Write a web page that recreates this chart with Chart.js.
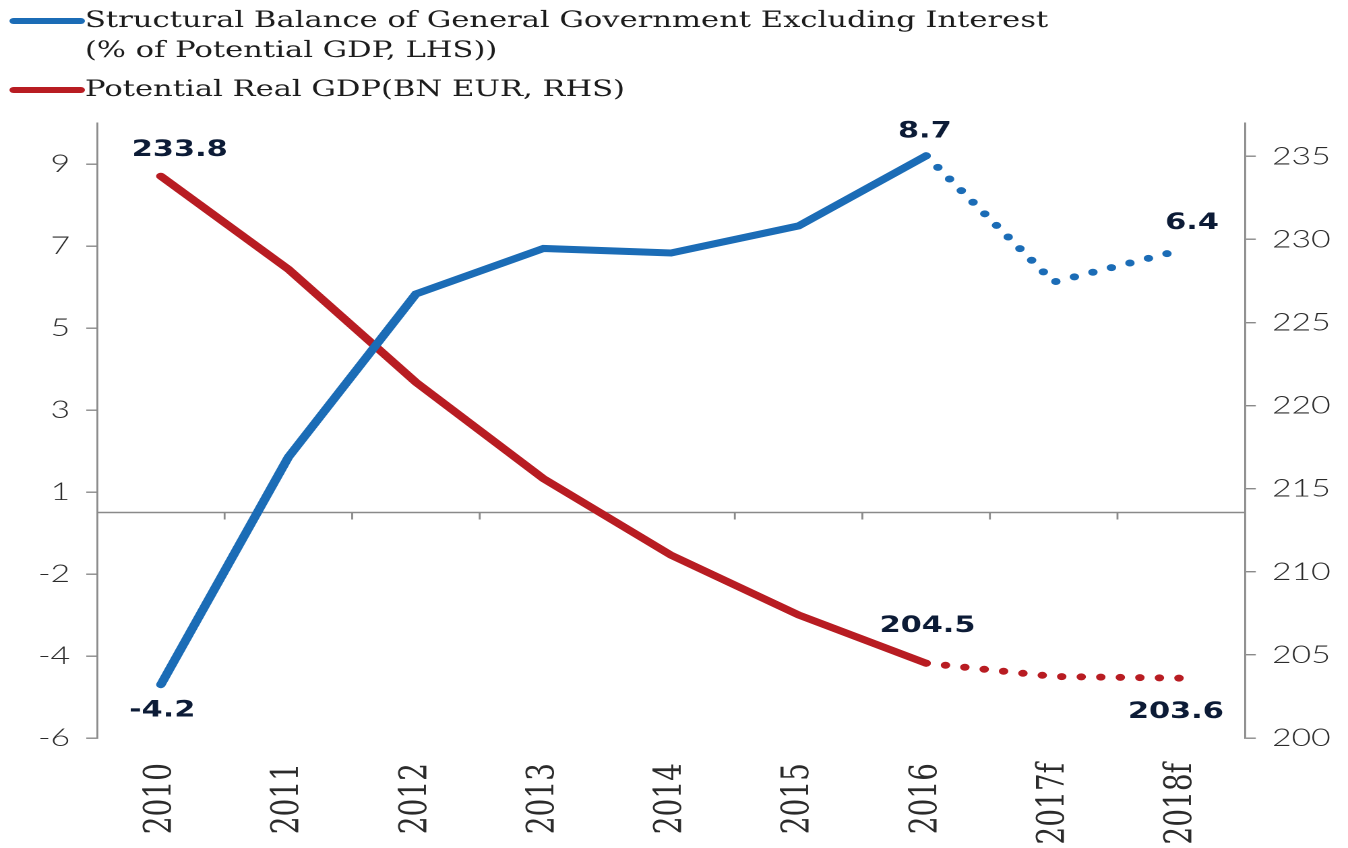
<!DOCTYPE html>
<html>
<head>
<meta charset="utf-8">
<script src="https://cdn.jsdelivr.net/npm/chart.js@4"></script>
<style>
    html, body { margin: 0; padding: 0; background: #fff; }
</style>
</head>
<body>
<!-- The chart is drawn 1000 wide and shown 1348 wide, like the stretched original. -->
<canvas id="chart" width="1000" height="848" style="display:block;width:1348px;height:848px;"></canvas>
<script>
const years = ['2010', '2011', '2012', '2013', '2014', '2015', '2016', '2017f', '2018f'];
const balanceValues = [-4.2, 1.35, 5.33, 6.44, 6.33, 6.99, 8.7, 5.62, 6.4];              // % of potential GDP, LHS
const gdpValues = [233.8, 228.2, 221.4, 215.6, 211.0, 207.4, 204.5, 203.7, 203.6];       // BN EUR, RHS
const balanceName = ['Structural Balance of General Government Excluding Interest', '(% of Potential GDP, LHS))'];
const gdpName = ['Potential Real GDP(BN EUR, RHS)'];
const leftTickValues = [-5.5, -3.5, -1.5, 0.5, 2.5, 4.5, 6.5, 8.5];
const leftTickLabels = ['-6', '-4', '-2', '1', '3', '5', '7', '9'];
const rightTickValues = [200, 205, 210, 215, 220, 225, 230, 235];
const lastActual = 6;   // 2016; the lines are dotted after this point

const BLUE = '#1b6cb6';
const RED = '#b81c22';
const GREY = '#8a8a8a';
const NAVY = '#0c1b36';

// Which points get a value label, and where it sits against the point.
const valueLabels = [
    {series: 1, index: 0, dx: 14, dy: -26},
    {series: 0, index: 0, dx: 1, dy: 26},
    {series: 0, index: 6, dx: -1, dy: -24},
    {series: 0, index: 8, dx: 8, dy: -27},
    {series: 1, index: 6, dx: 1, dy: -37},
    {series: 1, index: 8, dx: -4, dy: 34}
];

/* Horizontal line through zero on the left axis, with small ticks between the years. */
const zeroLine = {
    id: 'zeroLine',
    beforeDatasetsDraw(chart) {
        const ctx = chart.ctx;
        const area = chart.chartArea;
        const x = chart.scales.x;
        const y0 = chart.scales.yL.getPixelForValue(0);
        ctx.save();
        ctx.strokeStyle = GREY;
        ctx.lineWidth = 1.4;
        ctx.beginPath();
        ctx.moveTo(area.left, y0);
        ctx.lineTo(area.right, y0);
        for (let i = 0; i < years.length - 1; i++) {
            const xb = (x.getPixelForValue(i) + x.getPixelForValue(i + 1)) / 2;
            ctx.moveTo(xb, y0);
            ctx.lineTo(xb, y0 + 7);
        }
        ctx.stroke();
        ctx.restore();
    }
};

/* Bold value labels next to the first, 2016 and last points. */
const pointValues = {
    id: 'pointValues',
    afterDatasetsDraw(chart) {
        const ctx = chart.ctx;
        ctx.save();
        ctx.font = 'bold 22.5px "DejaVu Sans"';
        ctx.fillStyle = NAVY;
        ctx.textAlign = 'center';
        ctx.textBaseline = 'middle';
        valueLabels.forEach(l => {
            const pt = chart.getDatasetMeta(l.series).data[l.index];
            const v = chart.data.datasets[l.series].data[l.index];
            ctx.fillText(v.toFixed(1), pt.x + l.dx, pt.y + l.dy);
        });
        ctx.restore();
    }
};

/* Legend in the top left corner: a line sample, then the name on one or two rows. */
const topLegend = {
    id: 'topLegend',
    afterDraw(chart) {
        const ctx = chart.ctx;
        const entries = [
            {color: BLUE, lines: balanceName, y: 21},
            {color: RED, lines: gdpName, y: 90}
        ];
        ctx.save();
        ctx.font = '22.7px "DejaVu Serif"';
        ctx.fillStyle = '#1c1c1c';
        ctx.textBaseline = 'middle';
        entries.forEach(e => {
            ctx.strokeStyle = e.color;
            ctx.lineWidth = 6;
            ctx.lineCap = 'round';
            ctx.beginPath();
            ctx.moveTo(10, e.y);
            ctx.lineTo(60, e.y);
            ctx.stroke();
            e.lines.forEach((t, i) => ctx.fillText(t, 63, e.y + i * 30));
        });
        ctx.restore();
    }
};

const dotted = ctx => ctx.p0DataIndex >= lastActual ? [0, 14.5] : undefined;
const tickFont = {family: 'Lato', size: 25, weight: '300'};

new Chart(document.getElementById('chart'), {
    type: 'line',
    data: {
        labels: years,
        datasets: [
            {label: balanceName.join(' '), data: balanceValues, yAxisID: 'yL', borderColor: BLUE, backgroundColor: BLUE,
             borderWidth: 7, borderCapStyle: 'round', pointRadius: 0, fill: false, segment: {borderDash: dotted}},
            {label: gdpName[0], data: gdpValues, yAxisID: 'yR', borderColor: RED, backgroundColor: RED,
             borderWidth: 7, borderCapStyle: 'round', pointRadius: 0, fill: false, segment: {borderDash: dotted}}
        ]
    },
    options: {
        responsive: false,
        devicePixelRatio: 2,
        animation: false,
        layout: {padding: {top: 123, left: 0, right: 0, bottom: 0}},
        plugins: {legend: {display: false}, tooltip: {enabled: false}},
        scales: {
            x: {
                offset: true,
                grid: {display: false},
                border: {display: false},
                ticks: {minRotation: 90, maxRotation: 90, padding: 17, color: '#2b2b2b',
                        font: {family: 'DejaVu Serif', size: 28}},
                afterFit: s => { s.height = 110; }
            },
            yL: {
                position: 'left',
                min: -5.5,
                max: 9.5,
                afterBuildTicks: s => { s.ticks = leftTickValues.map(v => ({value: v})); },
                ticks: {padding: 12, color: '#2b2b2b', font: tickFont,
                        callback: v => leftTickLabels[leftTickValues.indexOf(v)]},
                grid: {drawOnChartArea: false, tickLength: 8, color: GREY, lineWidth: 1.4},
                border: {color: GREY, width: 1.4},
                afterFit: s => { s.width = 72; }
            },
            yR: {
                position: 'right',
                min: 200,
                max: 237,
                afterBuildTicks: s => { s.ticks = rightTickValues.map(v => ({value: v})); },
                ticks: {padding: 12, color: '#2b2b2b', font: tickFont},
                grid: {drawOnChartArea: false, tickLength: 8, color: GREY, lineWidth: 1.4},
                border: {color: GREY, width: 1.4},
                afterFit: s => { s.width = 76.4; }
            }
        }
    },
    plugins: [zeroLine, pointValues, topLegend]
});
</script>
</body>
</html>
